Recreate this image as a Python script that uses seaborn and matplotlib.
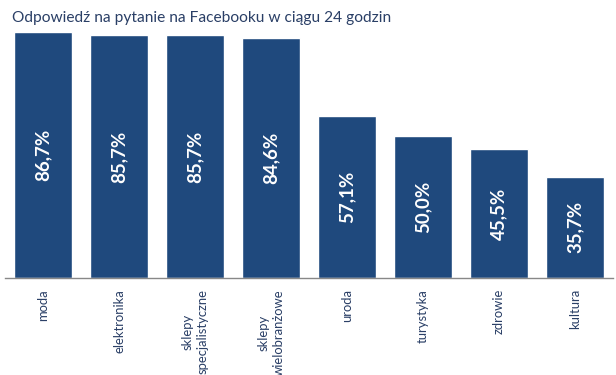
import matplotlib
matplotlib.use("Agg")
import matplotlib.pyplot as plt
import seaborn as sns
import pandas as pd

categories = ["moda", "elektronika", "sklepy\nspecjalistyczne", "sklepy\nwielobranżowe",
              "uroda", "turystyka", "zdrowie", "kultura"]
values = [86.7, 85.7, 85.7, 84.6, 57.1, 50.0, 45.5, 35.7]
labels = ["86,7%", "85,7%", "85,7%", "84,6%", "57,1%", "50,0%", "45,5%", "35,7%"]

sns.set_theme(style="white")
plt.rcParams["font.family"] = ["Lato", "DejaVu Sans"]

df = pd.DataFrame({"kategoria": categories, "wartosc": values})

fig = plt.figure(figsize=(6.16, 3.75), dpi=100)
ax = fig.add_axes([5 / 616, 97 / 375, 608 / 616, 246 / 375])

sns.barplot(data=df, x="kategoria", y="wartosc", color="#1f497d", saturation=1,
            width=0.763, ax=ax)

for i, (v, lab) in enumerate(zip(values, labels)):
    ax.text(i, v / 2, lab, rotation=90, ha="center", va="center",
            color="white", fontsize=13.5, fontweight="bold")

ax.set_xlim(-0.5, len(categories) - 0.5)
ax.set_ylim(0, 86.7)
ax.set_xlabel("")
ax.set_ylabel("")
ax.set_yticks([])
ax.tick_params(axis="x", length=0, pad=8, labelsize=9.4, labelcolor="#2a3f66")
plt.setp(ax.get_xticklabels(), rotation=90, va="top", ha="center",
         multialignment="center", linespacing=1.35)

for side in ["top", "right", "left"]:
    ax.spines[side].set_visible(False)
ax.spines["bottom"].set_color("#888888")
ax.spines["bottom"].set_linewidth(1)

fig.text(12 / 616, 1 - 18 / 375, "Odpowiedź na pytanie na Facebooku w ciągu 24 godzin",
         ha="left", va="center", fontsize=11.2, color="#2a3f66")

fig.savefig("out.png", dpi=100)
